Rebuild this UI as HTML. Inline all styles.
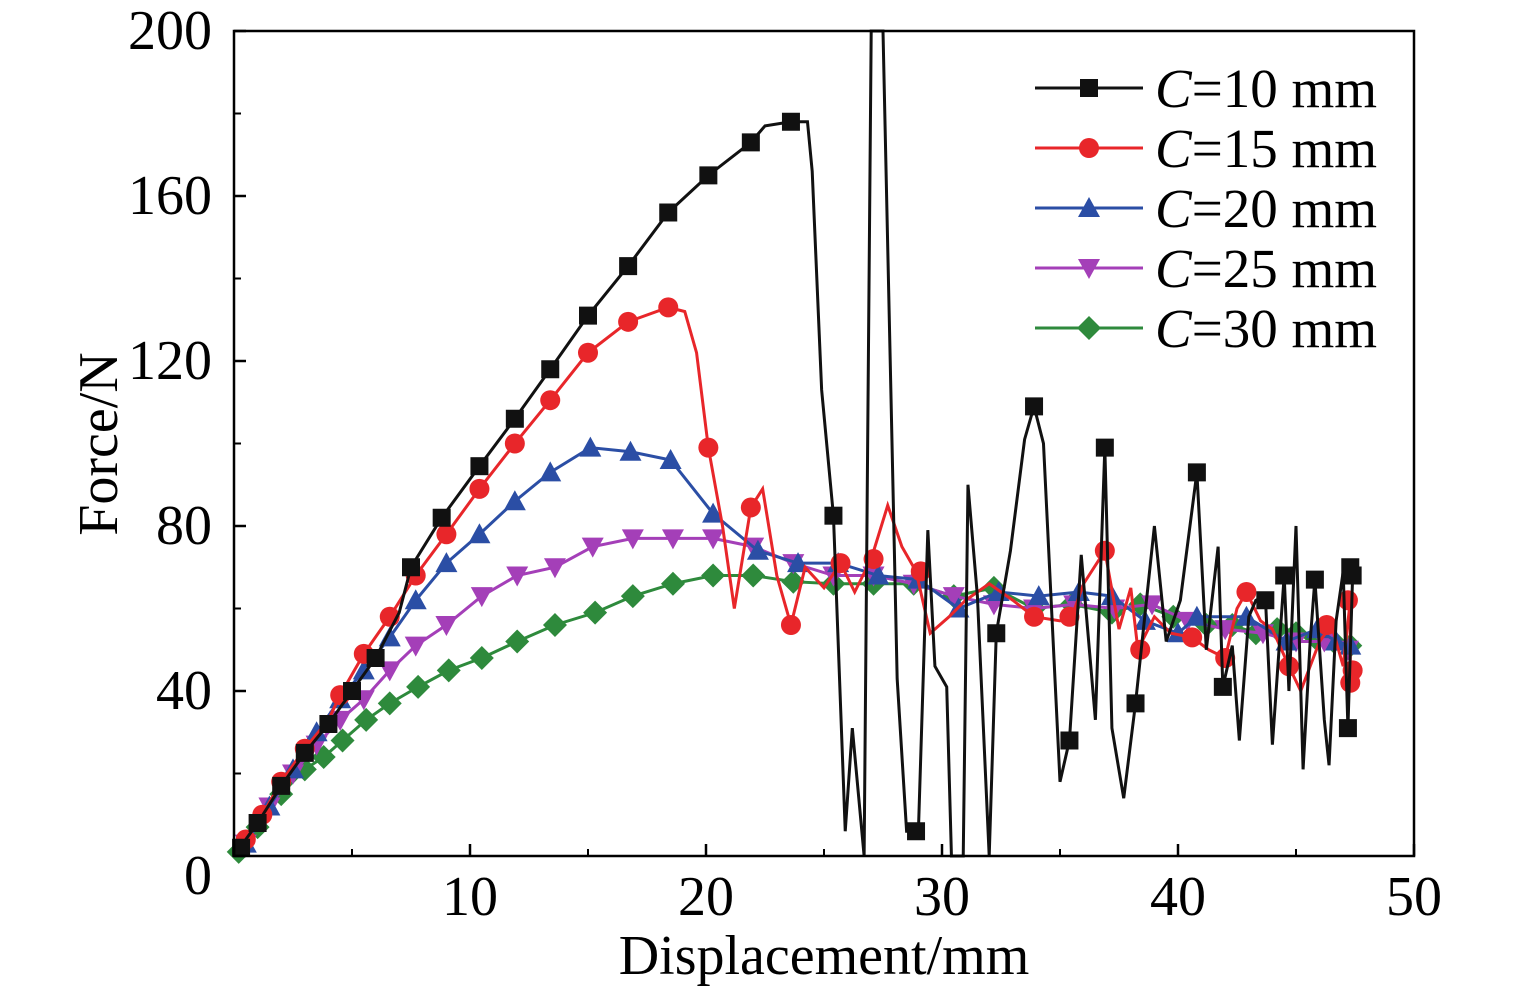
<!DOCTYPE html>
<html><head><meta charset="utf-8"><style>
html,body{margin:0;padding:0;background:#fff;}
svg{display:block;font-family:"Liberation Serif",serif;}
</style></head><body>
<svg id="chart" width="1535" height="992">
<g id="plot"></g>
</svg>
<script>
const xTicks=[0,10,20,30,40,50];
const yTicks=[0,40,80,120,160,200];
const seriesNames=["10","15","20","25","30"];
const seriesColors=["#111","#e8262a","#2b4ea5","#a43fb8","#2e8a3c"];
const c10Line=[[0,0],[1,8],[2,17],[3,25],[4,32],[5,40],[6,48],[7,59],[7.5,70],[8.8,82],[10.4,94.5],[11.9,106],[13.4,118],[15,131],[16.7,143],[18.4,156],[20.1,165],[21.9,173],[22.5,177],[23.6,178],[24.3,178],[24.5,166],[24.9,113],[25.4,82.5],[25.9,6],[26.2,31],[26.7,0],[27,200],[27.5,200],[28.1,43],[28.5,6],[29,6],[29.4,79],[29.7,46],[30.2,41],[30.4,0],[30.9,0],[31.1,90],[31.5,63],[32,0],[32.3,54],[32.9,74],[33.5,101],[33.9,109],[34.3,100],[35,18],[35.4,28],[35.9,73],[36.5,33],[36.9,99],[37.2,31],[37.7,14],[38.2,37],[39,80],[39.5,52],[40.1,62],[40.8,93],[41.2,50],[41.7,75],[41.9,41],[42.3,51],[42.6,28],[43,58],[43.3,62],[43.7,63],[44,27],[44.5,68],[44.7,40],[45,80],[45.3,21],[45.6,52],[45.8,67],[46.2,33],[46.4,22],[46.7,57],[47,69],[47.2,31],[47.4,68]];
const c10Marks=[[0.3,2],[1,8],[2,17],[3,25],[4,32],[5,40],[6,48],[7.5,70],[8.8,82],[10.4,94.5],[11.9,106],[13.4,118],[15,131],[16.7,143],[18.4,156],[20.1,165],[21.9,173],[23.6,178],[25.4,82.5],[28.9,6],[32.3,54],[33.9,109],[35.4,28],[36.9,99],[38.2,37],[40.8,93],[41.9,41],[43.7,62],[44.5,68],[45.8,67],[47.2,31],[47.3,70],[47.4,68]];
const c15Line=[[0.5,4],[1.2,10],[2,18],[3,26],[4,33],[4.5,39],[5.5,49],[6.6,58],[7.7,68],[9,78],[10.4,89],[11.9,100],[13.4,110.5],[15,122],[16.7,129.5],[18.4,133],[19.1,132],[19.6,122],[20.1,99],[20.7,80],[21.2,60],[21.9,84.5],[22.4,89],[23,68],[23.6,56],[24.2,70],[25,65],[25.7,71],[26.3,64],[27,72],[27.7,85],[28.3,75],[28.9,69],[29.5,54],[30.3,58],[31,62],[32,66],[33,62],[33.9,58],[35,57],[35.5,58],[36,66],[36.9,74],[37.5,55],[38,65],[38.3,50],[39,58],[39.7,54],[40.6,53],[41.3,50],[42,48],[42.5,60],[42.9,64],[43.5,57],[44,55],[44.7,46],[45.2,40],[46,52],[46.5,56],[47,46],[47.3,62],[47.3,42],[47.4,45]];
const c15Marks=[[0.5,4],[1.2,10],[2,18],[3,26],[4.5,39],[5.5,49],[6.6,58],[7.7,68],[9,78],[10.4,89],[11.9,100],[13.4,110.5],[15,122],[16.7,129.5],[18.4,133],[20.1,99],[21.9,84.5],[23.6,56],[25.7,71],[27.1,72],[29.1,69],[33.9,58],[35.4,58],[36.9,74],[38.4,50],[40.6,53],[42,48],[42.9,64],[44.7,46],[46.3,56],[47.2,62],[47.3,42],[47.4,45]];
const c20Data=[[0.5,3],[1.5,12],[2.5,21],[3.5,30],[4.5,38],[5.5,45],[6.6,53],[7.7,62],[9,71],[10.4,78],[11.9,86],[13.4,93],[15.1,99],[16.8,98],[18.5,96],[20.3,83],[22.2,74],[23.9,71],[25.6,71],[27.3,68],[29,67],[30.7,60],[32.4,64],[34.1,63],[35.8,64],[37.2,63],[38.6,57],[40,54],[40.8,58],[42.9,58],[44.6,52],[45.9,55],[46.7,52],[47.3,51]];
const c25Data=[[0.5,3],[1.5,12],[2.5,20],[3.5,27],[4.5,33],[5.5,38],[6.6,45],[7.7,51],[9,56],[10.5,63],[12,68],[13.6,70],[15.2,75],[16.9,77],[18.6,77],[20.3,77],[22,75],[23.7,71],[25.4,68],[27.1,68],[28.8,66],[30.5,63],[32.2,61],[33.9,60],[35.6,61],[37.3,60],[38.9,61],[40.4,57],[42,55],[43.6,54],[45,52],[46.2,52],[47.2,50]];
const c30Data=[[0.2,1],[1,7],[2,15],[3,21],[3.8,24],[4.6,28],[5.6,33],[6.6,37],[7.8,41],[9.1,45],[10.5,48],[12,52],[13.6,56],[15.3,59],[16.9,63],[18.6,66],[20.3,68],[22,68],[23.7,66.5],[25.4,66],[27.1,66],[28.8,66],[30.5,63],[32.2,65],[33.9,60],[35.5,61],[37.2,59],[38.4,61],[39.8,58],[41.2,56],[42.3,56],[43.3,54],[44.2,55],[45,54],[45.8,53],[46.6,52],[47.3,51]];

const X0=234,X1=1414,Y0=856,Y1=31;
const xs=v=>X0+(v-0)/50*(X1-X0);
const ys=v=>Y0-(v/200)*(Y0-Y1);
const NS="http://www.w3.org/2000/svg";
const svg=document.getElementById('chart');
function mk(t,a,p){const e=document.createElementNS(NS,t);for(const k in a)e.setAttribute(k,a[k]);(p||svg).appendChild(e);return e;}

function marker(type,cx,cy,color,parent){
  const s=9;let e;
  if(type==='square')e=mk('rect',{x:cx-s,y:cy-s,width:2*s,height:2*s,fill:color},parent);
  else if(type==='circle')e=mk('circle',{cx:cx,cy:cy,r:s+1,fill:color},parent);
  else if(type==='up')e=mk('polygon',{points:`${cx},${cy-s-2} ${cx+s+2},${cy+s} ${cx-s-2},${cy+s}`,fill:color},parent);
  else if(type==='down')e=mk('polygon',{points:`${cx-s-2},${cy-s} ${cx+s+2},${cy-s} ${cx},${cy+s+2}`,fill:color},parent);
  else e=mk('polygon',{points:`${cx},${cy-s-3} ${cx+s+3},${cy} ${cx},${cy+s+3} ${cx-s-3},${cy}`,fill:color},parent);
  return e;
}
const types=['square','circle','up','down','diamond'];
const lines=[c10Line,c15Line,c20Data,c25Data,c30Data];
const marks=[c10Marks,c15Marks,c20Data,c25Data,c30Data];
const plot=document.getElementById('plot');
for(let i=4;i>=0;i--){
  const g=mk('g',{},plot);
  
  
  const l=mk('polyline',{points:lines[i].map(p=>xs(p[0])+','+ys(Math.min(p[1],200))).join(' '),fill:'none',stroke:seriesColors[i],'stroke-width':3},g);
  
  
  marks[i].forEach(p=>{const m=marker(types[i],xs(p[0]),ys(p[1]),seriesColors[i],g);
    
    });
}
const fr=mk('rect',{x:X0,y:Y1,width:X1-X0,height:Y0-Y1,fill:'none',stroke:'#000','stroke-width':2.5});


xTicks.forEach(t=>{
  mk('line',{x1:xs(t),x2:xs(t),y1:Y0,y2:Y0-12,stroke:'#000','stroke-width':2.5});
  if(t<50)mk('line',{x1:xs(t+5),x2:xs(t+5),y1:Y0,y2:Y0-7,stroke:'#000','stroke-width':2});
  if(t>0){const tx=mk('text',{x:xs(t),y:915,'font-size':56,'text-anchor':'middle'});tx.textContent=t;
  
  }
});
const z=mk('text',{x:212,y:894,'font-size':56,'text-anchor':'end'});z.textContent='0';


yTicks.forEach(t=>{
  mk('line',{x1:X0,x2:X0+12,y1:ys(t),y2:ys(t),stroke:'#000','stroke-width':2.5});
  if(t<200)mk('line',{x1:X0,x2:X0+7,y1:ys(t+20),y2:ys(t+20),stroke:'#000','stroke-width':2});
  if(t>0){const tx=mk('text',{x:212,y:ys(t)+18,'font-size':56,'text-anchor':'end'});tx.textContent=t;
  
  }
});
const xt=mk('text',{x:824,y:974,'font-size':56,'text-anchor':'middle'});xt.textContent='Displacement/mm';


const yt=mk('text',{x:0,y:0,'font-size':56,'text-anchor':'middle',transform:'translate(117,444) rotate(-90)'});yt.textContent='Force/N';


const lg=mk('g',{});


seriesNames.forEach((n,i)=>{
  const y=88+i*60;
  const e=mk('g',{},lg);
  
  
  mk('line',{x1:1035,x2:1143,y1:y,y2:y,stroke:seriesColors[i],'stroke-width':3},e);
  marker(types[i],1089,y,seriesColors[i],e);
  const t=mk('text',{x:1155,y:y+19,'font-size':55},e);
  t.innerHTML='<tspan font-style="italic">C</tspan>='+n+' mm';
});
</script>
</body></html>
